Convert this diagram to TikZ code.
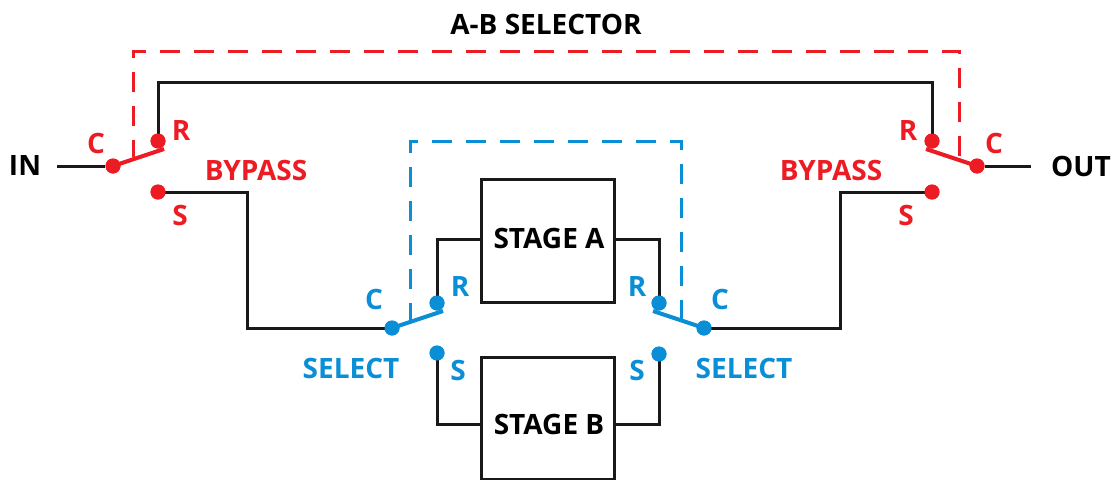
\documentclass[tikz,border=0pt]{standalone}
\usepackage{fontspec}
\setmainfont{Open Sans}
\definecolor{rd}{HTML}{ED1C24}
\definecolor{bl}{HTML}{0A8FD6}
\tikzset{
  x=1pt,y=-1pt,
  wire/.style={draw=black!90,line width=3pt,line join=miter},
  lever/.style={line width=4pt},
  rdash/.style={draw=rd,line width=3pt,dash pattern=on 20pt off 14pt,dash phase=3pt},
  bdash/.style={draw=bl,line width=3pt,dash pattern=on 20pt off 14pt,dash phase=3pt},
  dotr/.style={circle,fill=rd,inner sep=0pt,minimum size=15pt},
  dotb/.style={circle,fill=bl,inner sep=0pt,minimum size=15pt},
  lab/.style={font=\fontsize{28}{28}\selectfont\bfseries,inner sep=0pt},
  labr/.style={lab,text=rd},
  labb/.style={lab,text=bl},
  labk/.style={lab,text=black},
  stagebox/.style={draw=black!90,line width=3pt,minimum width=133pt,inner sep=0pt,fill=white}
}
\begin{document}
\begin{tikzpicture}
\useasboundingbox (0,0) rectangle (1115,479);
% stages
\node[stagebox,minimum height=123pt] (sa) at (547.5,240.5) {};
\node[stagebox,minimum height=122pt] (sb) at (547.5,418) {};
% switch contacts
\node[dotr] (lc) at (113,166) {};
\node[dotr] (lr) at (158,141) {};
\node[dotr] (ls) at (158,192) {};
\node[dotr] (rc) at (977,166) {};
\node[dotr] (rr) at (932,141) {};
\node[dotr] (rs) at (932,192) {};
\node[dotb] (bc) at (392,328) {};
\node[dotb] (br) at (437,303) {};
\node[dotb] (bs) at (437,353) {};
\node[dotb] (dc) at (704,328) {};
\node[dotb] (dr) at (659,303) {};
\node[dotb] (ds) at (659,354) {};
\coordinate (inend) at (57,166);
\coordinate (outend) at (1031,166);
\coordinate (ltip) at (164,149);
\coordinate (rtip) at (926,149);
\coordinate (btip) at (443,311);
\coordinate (dtip) at (653,311);
\coordinate (rdl) at (133,157);
\coordinate (rdr) at (959,157);
\coordinate (bdl) at (410,320);
\coordinate (bdr) at (681,319);
% dashed linkages
\draw[rdash] (rdl) -- (133,51) -- (959,51) -- (rdr);
\draw[bdash] (bdl) -- (410,141) -- (681,141) -- (bdr);
% wires
\draw[wire] (inend) -- (lc);
\draw[wire] (rc) -- (outend);
\draw[wire] (lr.center) -- (158,82) -- (932,82) -- (rr.center);
\draw[wire] (ls.center) -- (247,192) -- (247,328) -- (bc.center);
\draw[wire] (rs.center) -- (840,192) -- (840,328) -- (dc.center);
\draw[wire] (br.center) -- (437,239) -- (sa.west |- 0,239);
\draw[wire] (dr.center) -- (659,239) -- (sa.east |- 0,239);
\draw[wire] (bs.center) -- (437,424) -- (sb.west |- 0,424);
\draw[wire] (ds.center) -- (659,424) -- (sb.east |- 0,424);
% levers
\draw[rd,lever] (lc.center) -- (ltip);
\draw[rd,lever] (rc.center) -- (rtip);
\draw[bl,lever] (bc.center) -- (btip);
\draw[bl,lever] (dc.center) -- (dtip);
% redraw contacts
\foreach \n/\s in {lc/dotr,lr/dotr,ls/dotr,rc/dotr,rr/dotr,rs/dotr,bc/dotb,br/dotb,bs/dotb,dc/dotb,dr/dotb,ds/dotb}{
  \node[\s] at (\n.center) {};
}
% labels
\node[labk] (t0) at (546,24) {A-B SELECTOR};
\node[labk] (t1) at (25,166) {IN};
\node[labk] (t2) at (1081,166) {OUT};
\node[labk] (t3) at (549,238) {STAGE A};
\node[labk] (t4) at (549,424) {STAGE B};
\node[labr] (t5) at (96,143) {C};
\node[labr] (t6) at (181,131) {R};
\node[labr] (t7) at (180,215) {S};
\node[labr] (t8) at (256,170) {BYPASS};
\node[labr] (t9) at (908,131) {R};
\node[labr] (t10) at (994,143) {C};
\node[labr] (t11) at (906,215) {S};
\node[labr] (t12) at (831,170) {BYPASS};
\node[labb] (t13) at (374,299) {C};
\node[labb] (t14) at (460,287) {R};
\node[labb] (t15) at (458,370) {S};
\node[labb] (t16) at (351,368) {SELECT};
\node[labb] (t17) at (637,287) {R};
\node[labb] (t18) at (720,299) {C};
\node[labb] (t19) at (637,370) {S};
\node[labb] (t20) at (744,368) {SELECT};
\end{tikzpicture}
\end{document}
